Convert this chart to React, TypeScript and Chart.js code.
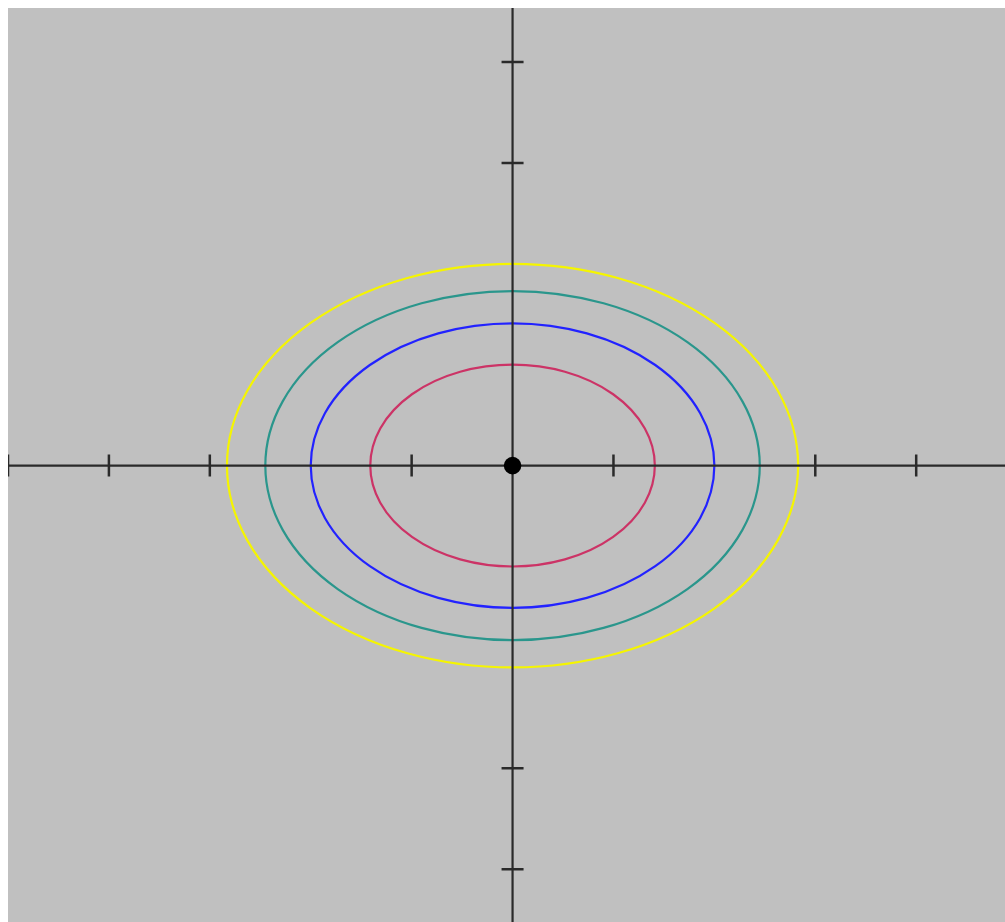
import React, { useEffect, useRef } from "react";
import { Chart, registerables } from "chart.js";

Chart.register(...registerables);

// Contour ellipses centred at the origin (semi-axes in data units)
const ellipseNames = ["c1", "c2", "c3", "c4"];
const ellipseRx = [1.41, 2.0, 2.45, 2.83];
const ellipseRy = [1.0, 1.41, 1.73, 2.0];
const ellipseColors = ["#cc3366", "#2222ff", "#2a968c", "#f5f500"];

// Visible axis tick positions
const xTickValues = [-5, -4, -3, -1, 1, 3, 4];
const yTickValues = [-4, -3, 3, 4];

// Centre point
const centerX = [0];
const centerY = [0];

// Visible window
const xRange = [-5.0, 4.88];
const yRange = [-4.523, 4.535];

const W = 997;
const H = 914;

const axesPlugin = {
  id: "axesAndEllipses",
  beforeDraw(chart: any) {
    const ctx = chart.ctx;
    ctx.save();
    ctx.fillStyle = "#c0c0c0";
    ctx.fillRect(0, 0, chart.width, chart.height);
    ctx.restore();
  },
  beforeDatasetsDraw(chart: any) {
    const ctx = chart.ctx;
    const xs = chart.scales.x;
    const ys = chart.scales.y;
    const x0 = xs.getPixelForValue(0);
    const y0 = ys.getPixelForValue(0);
    const tickHalf = 11;
    ctx.save();
    ctx.strokeStyle = "#2a2a2a";
    ctx.lineWidth = 2.5;
    ctx.beginPath();
    xTickValues.forEach((v) => {
      const px = xs.getPixelForValue(v);
      ctx.moveTo(px, y0 - tickHalf);
      ctx.lineTo(px, y0 + tickHalf);
    });
    yTickValues.forEach((v) => {
      const py = ys.getPixelForValue(v);
      ctx.moveTo(x0 - tickHalf, py);
      ctx.lineTo(x0 + tickHalf, py);
    });
    ctx.stroke();

    // ellipses
    ellipseNames.forEach((_, i) => {
      const rx = Math.abs(xs.getPixelForValue(ellipseRx[i]) - x0);
      const ry = Math.abs(ys.getPixelForValue(ellipseRy[i]) - y0);
      ctx.beginPath();
      ctx.strokeStyle = ellipseColors[i];
      ctx.lineWidth = 2.2;
      ctx.ellipse(x0, y0, rx, ry, 0, 0, Math.PI * 2);
      ctx.stroke();
    });

    // axis lines
    ctx.strokeStyle = "#2a2a2a";
    ctx.lineWidth = 2.2;
    ctx.beginPath();
    ctx.moveTo(0, y0);
    ctx.lineTo(chart.width, y0);
    ctx.moveTo(x0, 0);
    ctx.lineTo(x0, chart.height);
    ctx.stroke();
    ctx.restore();
  },
};

export default function App() {
  const ref = useRef<HTMLCanvasElement | null>(null);
  useEffect(() => {
    if (!ref.current) return;
    const chart = new Chart(ref.current, {
      type: "scatter",
      data: {
        datasets: [
          {
            label: "centre",
            data: centerX.map((x, i) => ({ x, y: centerY[i] })),
            pointRadius: 8.8,
            pointBackgroundColor: "#000000",
            pointBorderWidth: 0,
            borderColor: "#000000",
          },
        ],
      },
      options: {
        animation: false,
        responsive: false,
        devicePixelRatio: 1,
        layout: { padding: 0, autoPadding: false },
        plugins: {
          legend: { display: false },
          tooltip: { enabled: false },
        },
        scales: {
          x: { type: "linear", min: xRange[0], max: xRange[1], display: false },
          y: { type: "linear", min: yRange[0], max: yRange[1], display: false },
        },
      },
      plugins: [axesPlugin],
    });
    return () => chart.destroy();
  }, []);
  return (
    <div style={{ position: "absolute", left: 8, top: 8, width: W, height: H, overflow: "hidden" }}>
      <canvas ref={ref} width={W} height={H} style={{ display: "block", width: W, height: H }} />
    </div>
  );
}
